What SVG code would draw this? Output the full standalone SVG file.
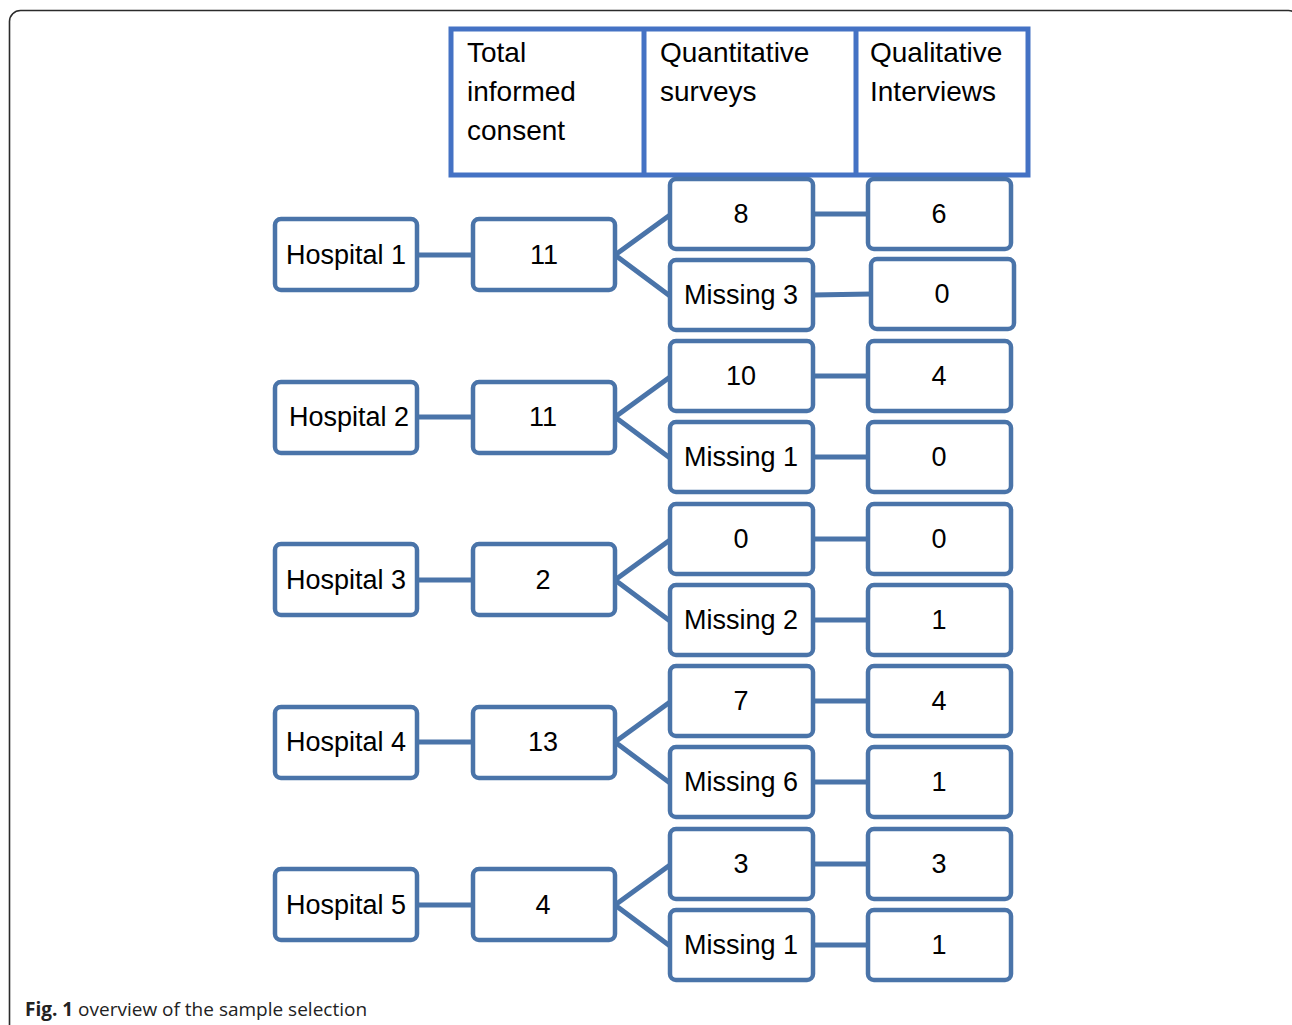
<svg xmlns="http://www.w3.org/2000/svg" width="1292" height="1025" viewBox="0 0 1292 1025">
<style>
.frame{fill:none;stroke:#2b2b2b;stroke-width:1.6}
.hdr{fill:#fff;stroke:#4472C4;stroke-width:5}
.hl{stroke:#4472C4;stroke-width:5}
.ht{font-family:"Liberation Sans",Arial,sans-serif;font-size:28px;fill:#000}
.box{fill:#fff;stroke:#4A74A9;stroke-width:4.5}
.t{font-family:"Liberation Sans",Arial,sans-serif;font-size:27px;fill:#000;text-anchor:middle}
.c{fill:none;stroke:#4A74A9;stroke-width:5}
.cap{font-family:"Open Sans","Liberation Sans",sans-serif;font-size:19px;fill:#222}
</style>
<rect width="1292" height="1025" fill="#fff"/>
<rect class="frame" x="9.5" y="10.5" width="1290" height="1100" rx="11"/>

<g id="header">
<rect class="hdr" x="451" y="29" width="577" height="146"/>
<line class="hl" x1="644" y1="29" x2="644" y2="175"/>
<line class="hl" x1="856" y1="29" x2="856" y2="175"/>
<text class="ht" x="467" y="62">Total</text>
<text class="ht" x="467" y="101">informed</text>
<text class="ht" x="467" y="140">consent</text>
<text class="ht" x="660" y="62">Quantitative</text>
<text class="ht" x="660" y="101">surveys</text>
<text class="ht" x="870" y="62">Qualitative</text>
<text class="ht" x="870" y="101">Interviews</text>
</g>

<g id="connectors">
<path class="c" d="M417 255H473M615 255L670 215M615 255L670 296M813 214H868M813 295L871 294"/>
<path class="c" d="M417 417H473M615 417L670 377M615 417L670 458M813 376H868M813 457H868"/>
<path class="c" d="M417 580H473M615 580L670 540M615 580L670 621M813 539H868M813 620H868"/>
<path class="c" d="M417 742H473M615 742L670 702M615 742L670 783M813 701H868M813 782H868"/>
<path class="c" d="M417 905H473M615 905L670 865M615 905L670 946M813 864H868M813 945H868"/>
</g>

<!-- Hospital 1 -->
<g id="hospital1"><rect class="box" x="275" y="219" width="142" height="71" rx="6"/><text class="t" x="346" y="264">Hospital 1</text></g>
<g id="consent1"><rect class="box" x="473" y="219" width="142" height="71" rx="6"/><text class="t" x="544" y="264">11</text></g>
<g id="quant1"><rect class="box" x="670" y="179" width="143" height="70" rx="6"/><text class="t" x="741" y="223">8</text></g>
<g id="quantmiss1"><rect class="box" x="670" y="260" width="143" height="70" rx="6"/><text class="t" x="741" y="304">Missing 3</text></g>
<g id="qual1"><rect class="box" x="868" y="179" width="143" height="70" rx="6"/><text class="t" x="939" y="223">6</text></g>
<g id="qualmiss1"><rect class="box" x="871" y="259" width="143" height="70" rx="6"/><text class="t" x="942" y="303">0</text></g>

<!-- Hospital 2 -->
<g id="hospital2"><rect class="box" x="275" y="382" width="142" height="71" rx="6"/><text class="t" x="349" y="426">Hospital 2</text></g>
<g id="consent2"><rect class="box" x="473" y="382" width="142" height="71" rx="6"/><text class="t" x="543" y="426">11</text></g>
<g id="quant2"><rect class="box" x="670" y="341" width="143" height="70" rx="6"/><text class="t" x="741" y="385">10</text></g>
<g id="quantmiss2"><rect class="box" x="670" y="422" width="143" height="70" rx="6"/><text class="t" x="741" y="466">Missing 1</text></g>
<g id="qual2"><rect class="box" x="868" y="341" width="143" height="70" rx="6"/><text class="t" x="939" y="385">4</text></g>
<g id="qualmiss2"><rect class="box" x="868" y="422" width="143" height="70" rx="6"/><text class="t" x="939" y="466">0</text></g>

<!-- Hospital 3 -->
<g id="hospital3"><rect class="box" x="275" y="544" width="142" height="71" rx="6"/><text class="t" x="346" y="589">Hospital 3</text></g>
<g id="consent3"><rect class="box" x="473" y="544" width="142" height="71" rx="6"/><text class="t" x="543" y="589">2</text></g>
<g id="quant3"><rect class="box" x="670" y="504" width="143" height="70" rx="6"/><text class="t" x="741" y="548">0</text></g>
<g id="quantmiss3"><rect class="box" x="670" y="585" width="143" height="70" rx="6"/><text class="t" x="741" y="629">Missing 2</text></g>
<g id="qual3"><rect class="box" x="868" y="504" width="143" height="70" rx="6"/><text class="t" x="939" y="548">0</text></g>
<g id="qualmiss3"><rect class="box" x="868" y="585" width="143" height="70" rx="6"/><text class="t" x="939" y="629">1</text></g>

<!-- Hospital 4 -->
<g id="hospital4"><rect class="box" x="275" y="707" width="142" height="71" rx="6"/><text class="t" x="346" y="751">Hospital 4</text></g>
<g id="consent4"><rect class="box" x="473" y="707" width="142" height="71" rx="6"/><text class="t" x="543" y="751">13</text></g>
<g id="quant4"><rect class="box" x="670" y="666" width="143" height="70" rx="6"/><text class="t" x="741" y="710">7</text></g>
<g id="quantmiss4"><rect class="box" x="670" y="747" width="143" height="70" rx="6"/><text class="t" x="741" y="791">Missing 6</text></g>
<g id="qual4"><rect class="box" x="868" y="666" width="143" height="70" rx="6"/><text class="t" x="939" y="710">4</text></g>
<g id="qualmiss4"><rect class="box" x="868" y="747" width="143" height="70" rx="6"/><text class="t" x="939" y="791">1</text></g>

<!-- Hospital 5 -->
<g id="hospital5"><rect class="box" x="275" y="869" width="142" height="71" rx="6"/><text class="t" x="346" y="914">Hospital 5</text></g>
<g id="consent5"><rect class="box" x="473" y="869" width="142" height="71" rx="6"/><text class="t" x="543" y="914">4</text></g>
<g id="quant5"><rect class="box" x="670" y="829" width="143" height="70" rx="6"/><text class="t" x="741" y="873">3</text></g>
<g id="quantmiss5"><rect class="box" x="670" y="910" width="143" height="70" rx="6"/><text class="t" x="741" y="954">Missing 1</text></g>
<g id="qual5"><rect class="box" x="868" y="829" width="143" height="70" rx="6"/><text class="t" x="939" y="873">3</text></g>
<g id="qualmiss5"><rect class="box" x="868" y="910" width="143" height="70" rx="6"/><text class="t" x="939" y="954">1</text></g>

<text class="cap" x="25" y="1016"><tspan font-weight="bold">Fig. 1</tspan> overview of the sample selection</text>
</svg>
